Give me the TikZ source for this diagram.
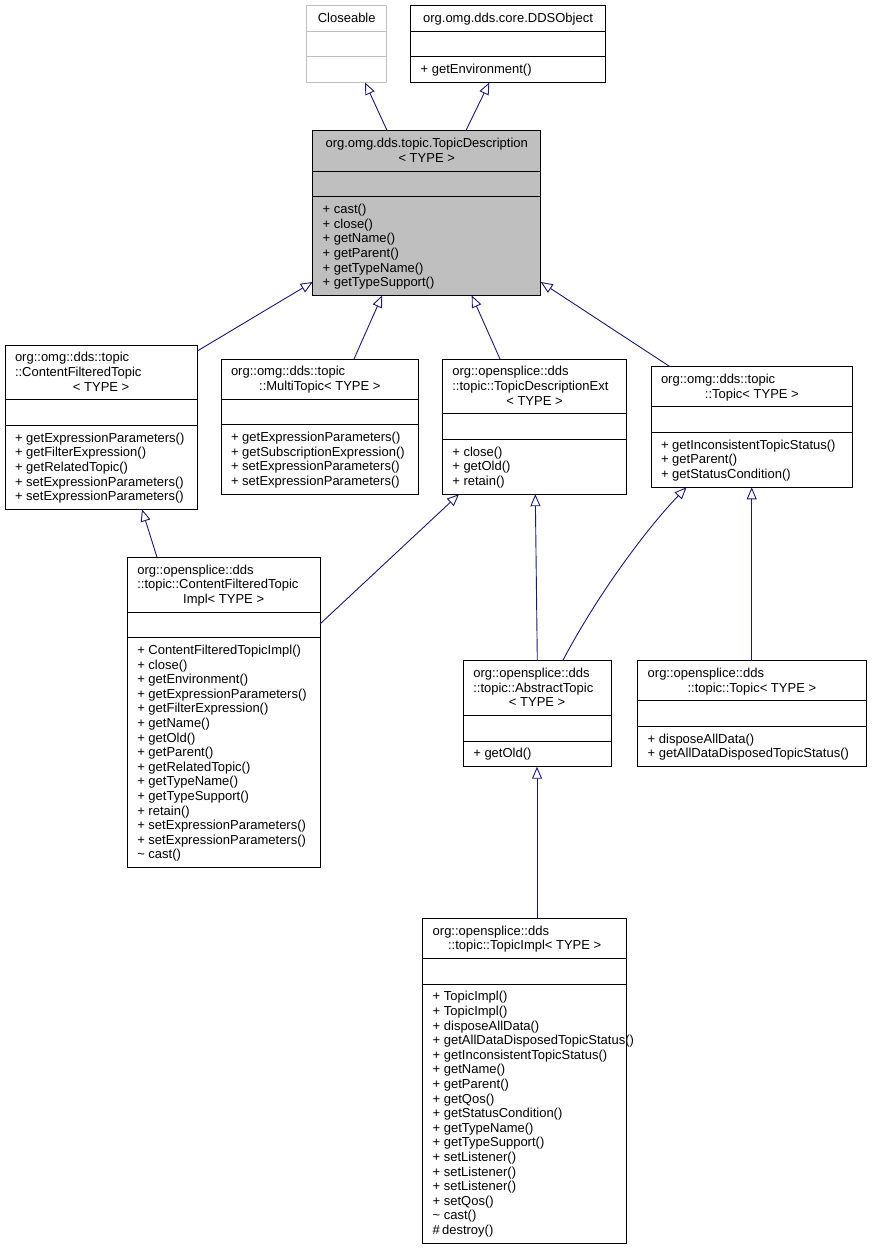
\documentclass[tikz,border=0pt]{standalone}
\usepackage{fontspec}
\setmainfont{Liberation Sans}
\usetikzlibrary{arrows.meta,calc}
\definecolor{arrowc}{HTML}{191970}
\definecolor{tdfill}{HTML}{BFBFBF}
\definecolor{lgray}{HTML}{BFBFBF}
\tikzset{
  clsbox/.style={draw=black, line width=1pt, inner sep=0pt, outer sep=0pt, fill=white},
  seprule/.style={draw=black, line width=1pt},
  graybox/.style={draw=lgray},
  mainbox/.style={fill=tdfill},
  plainbox/.style={},
  txt/.style={inner sep=0pt, outer sep=0pt, font=\fontsize{13}{14.6}\selectfont, text=black},
  inh/.style={draw=arrowc, line width=0.9pt, -{Triangle[open, length=12pt, width=10pt, fill=white]}},
}
\newcommand\umlclass[7]{%
  \pgfmathsetmacro\clsHT{11+14.6*#5}%
  \pgfmathsetmacro\clsHM{ifthenelse(#6==0,25.6,11+14.6*#6)}%
  \pgfmathsetmacro\clsHH{\clsHT+25.6+\clsHM}%
  \pgfmathsetmacro\clsWW{#3-#2}%
  \pgfmathsetmacro\clsSa{#4+\clsHT}%
  \pgfmathsetmacro\clsSb{#4+\clsHT+25.6}%
  \node[clsbox,#7,minimum width=\clsWW pt,minimum height=\clsHH pt,anchor=north west] (#1) at (#2,#4) {};
  \draw[seprule,#7] (#2,\clsSa) -- (#3,\clsSa);
  \draw[seprule,#7] (#2,\clsSb) -- (#3,\clsSb);
}
\begin{document}
\begin{tikzpicture}[x=1pt,y=-1pt]
\fill[white] (0,0) rectangle (871,1249);
\useasboundingbox (0,0) rectangle (871,1249);

% boxes
\umlclass{cl}{306.7}{386.7}{5.7}{1}{0}{graybox}
\umlclass{dds}{410.7}{605.3}{5.7}{1}{1}{plainbox}
\umlclass{td}{312.7}{540.7}{131}{2}{6}{mainbox}
\umlclass{cft}{5}{197.3}{345}{3}{5}{plainbox}
\umlclass{mt}{221}{418.7}{359}{2}{4}{plainbox}
\umlclass{tdx}{442.3}{626.7}{359}{3}{3}{plainbox}
\umlclass{otp}{651}{852.7}{366.7}{2}{3}{plainbox}
\umlclass{cfti}{127.3}{320}{557.3}{3}{15}{plainbox}
\umlclass{abs}{463.3}{611}{660.7}{3}{1}{plainbox}
\umlclass{ddt}{637.7}{866}{660.7}{2}{2}{plainbox}
\umlclass{ti}{422.7}{626.7}{918.3}{2}{17}{plainbox}

% Closeable
\node[txt,anchor=north] (cl-t) at (346.7,12.3) {\begin{tabular}{@{}c@{}}Closeable\end{tabular}};
% DDSObject
\node[txt,anchor=north] (dds-t) at (508,12.3) {\begin{tabular}{@{}c@{}}org.omg.dds.core.DDSObject\end{tabular}};
\node[txt,anchor=north west] (dds-m) at (420.7,63.5) {\begin{tabular}{@{}l@{}}+ getEnvironment()\end{tabular}};
% TopicDescription
\node[txt,anchor=north] (td-t) at (426.7,137.6) {\begin{tabular}{@{}c@{}}org.omg.dds.topic.TopicDescription\\< TYPE >\end{tabular}};
\node[txt,anchor=north west] (td-m) at (322.7,203.4) {\begin{tabular}{@{}l@{}}+ cast()\\+ close()\\+ getName()\\+ getParent()\\+ getTypeName()\\+ getTypeSupport()\end{tabular}};
% ContentFilteredTopic
\node[txt,anchor=north west] (cft-t) at (15,351.6) {\begin{tabular}{@{}l@{}}org::omg::dds::topic\\::ContentFilteredTopic\end{tabular}};
\node[txt,anchor=north] (cft-tl) at (101.15,380.8) {\begin{tabular}{@{}c@{}}< TYPE >\end{tabular}};
\node[txt,anchor=north west] (cft-m) at (15,432) {\begin{tabular}{@{}l@{}}+ getExpressionParameters()\\+ getFilterExpression()\\+ getRelatedTopic()\\+ setExpressionParameters()\\+ setExpressionParameters()\end{tabular}};
% MultiTopic
\node[txt,anchor=north west] (mt-t) at (231,365.6) {\begin{tabular}{@{}l@{}}org::omg::dds::topic\end{tabular}};
\node[txt,anchor=north] (mt-tl) at (319.85,380.2) {\begin{tabular}{@{}c@{}}::MultiTopic< TYPE >\end{tabular}};
\node[txt,anchor=north west] (mt-m) at (231,431.4) {\begin{tabular}{@{}l@{}}+ getExpressionParameters()\\+ getSubscriptionExpression()\\+ setExpressionParameters()\\+ setExpressionParameters()\end{tabular}};
% TopicDescriptionExt
\node[txt,anchor=north west] (tdx-t) at (452.3,365.6) {\begin{tabular}{@{}l@{}}org::opensplice::dds\\::topic::TopicDescriptionExt\end{tabular}};
\node[txt,anchor=north] (tdx-tl) at (534.5,394.8) {\begin{tabular}{@{}c@{}}< TYPE >\end{tabular}};
\node[txt,anchor=north west] (tdx-m) at (452.3,446) {\begin{tabular}{@{}l@{}}+ close()\\+ getOld()\\+ retain()\end{tabular}};
% omg Topic
\node[txt,anchor=north west] (otp-t) at (661,373.3) {\begin{tabular}{@{}l@{}}org::omg::dds::topic\end{tabular}};
\node[txt,anchor=north] (otp-tl) at (751.85,387.9) {\begin{tabular}{@{}c@{}}::Topic< TYPE >\end{tabular}};
\node[txt,anchor=north west] (otp-m) at (661,439.1) {\begin{tabular}{@{}l@{}}+ getInconsistentTopicStatus()\\+ getParent()\\+ getStatusCondition()\end{tabular}};
% ContentFilteredTopicImpl
\node[txt,anchor=north west] (cfti-t) at (137.3,563.9) {\begin{tabular}{@{}l@{}}org::opensplice::dds\\::topic::ContentFilteredTopic\end{tabular}};
\node[txt,anchor=north] (cfti-tl) at (223.65,593.1) {\begin{tabular}{@{}c@{}}Impl< TYPE >\end{tabular}};
\node[txt,anchor=north west] (cfti-m) at (137.3,644.3) {\begin{tabular}{@{}l@{}}+ ContentFilteredTopicImpl()\\+ close()\\+ getEnvironment()\\+ getExpressionParameters()\\+ getFilterExpression()\\+ getName()\\+ getOld()\\+ getParent()\\+ getRelatedTopic()\\+ getTypeName()\\+ getTypeSupport()\\+ retain()\\+ setExpressionParameters()\\+ setExpressionParameters()\\\textasciitilde\ cast()\end{tabular}};
% AbstractTopic
\node[txt,anchor=north west] (abs-t) at (473.3,667.3) {\begin{tabular}{@{}l@{}}org::opensplice::dds\\::topic::AbstractTopic\end{tabular}};
\node[txt,anchor=north] (abs-tl) at (537.15,696.5) {\begin{tabular}{@{}c@{}}< TYPE >\end{tabular}};
\node[txt,anchor=north west] (abs-m) at (473.3,747.7) {\begin{tabular}{@{}l@{}}+ getOld()\end{tabular}};
% opensplice Topic
\node[txt,anchor=north west] (ddt-t) at (647.7,667.3) {\begin{tabular}{@{}l@{}}org::opensplice::dds\end{tabular}};
\node[txt,anchor=north] (ddt-tl) at (751.85,681.9) {\begin{tabular}{@{}c@{}}::topic::Topic< TYPE >\end{tabular}};
\node[txt,anchor=north west] (ddt-m) at (647.7,733.1) {\begin{tabular}{@{}l@{}}+ disposeAllData()\\+ getAllDataDisposedTopicStatus()\end{tabular}};
% TopicImpl
\node[txt,anchor=north west] (ti-t) at (432.7,924.9) {\begin{tabular}{@{}l@{}}org::opensplice::dds\end{tabular}};
\node[txt,anchor=north] (ti-tl) at (524.7,939.5) {\begin{tabular}{@{}c@{}}::topic::TopicImpl< TYPE >\end{tabular}};
\node[txt,anchor=north west] (ti-m) at (432.7,990.7) {\begin{tabular}{@{}l@{}}+ TopicImpl()\\+ TopicImpl()\\+ disposeAllData()\\+ getAllDataDisposedTopicStatus()\\+ getInconsistentTopicStatus()\\+ getName()\\+ getParent()\\+ getQos()\\+ getStatusCondition()\\+ getTypeName()\\+ getTypeSupport()\\+ setListener()\\+ setListener()\\+ setListener()\\+ setQos()\\\textasciitilde\ cast()\\\#\,destroy()\end{tabular}};

% inheritance arrows
\draw[inh] ($(td.north west)+(74.6,0)$) -- ($(cl.south west)+(58.3,0)$);
\draw[inh] ($(td.north west)+(153,0)$) -- ($(dds.south west)+(78.6,0)$);
\draw[inh] ($(cft.north east)+(0,6)$) -- ($(td.north west)+(0,151)$);
\draw[inh] ($(mt.north west)+(133,0)$) -- ($(td.south west)+(69.5,0)$);
\draw[inh] ($(tdx.north west)+(57.7,0)$) -- ($(td.south west)+(159,0)$);
\draw[inh] ($(otp.north west)+(19,0)$) -- ($(td.north east)+(0,151)$);
\draw[inh] ($(cfti.north west)+(29.7,0)$) -- ($(cft.south west)+(137,0)$);
\draw[inh] ($(cfti.north east)+(0,66.7)$) -- ($(tdx.south west)+(16.7,0)$);
\draw[inh] ($(abs.north west)+(74,0)$) -- ($(tdx.south west)+(93,0)$);
\draw[inh] ($(abs.north west)+(99.4,0)$) .. controls ($(abs.north west)+(136.7,-70.7)$) and ($(otp.south west)+(-1,37.7)$) .. ($(otp.south west)+(35.5,0)$);
\draw[inh] ($(ddt.north west)+(114,0)$) -- ($(otp.south west)+(100.7,0)$);
\draw[inh] ($(ti.north west)+(114.3,0)$) -- ($(abs.south west)+(73.7,0)$);
\end{tikzpicture}
\end{document}
